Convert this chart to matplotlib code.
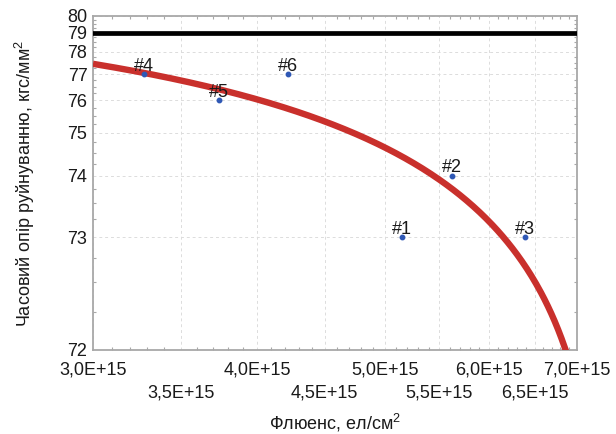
import numpy as np
import matplotlib
matplotlib.use('Agg')
import matplotlib.pyplot as plt
from matplotlib.ticker import FixedLocator, NullFormatter

# measured samples
fluence = [5.15e15, 5.62e15, 6.39e15, 3.28e15, 3.74e15, 4.22e15]
strength = [73, 74, 73, 77, 76, 77]
sample_names = ['#1', '#2', '#3', '#4', '#5', '#6']

# reference level
limit_level = 79

x_ticks = [3.0e15, 3.5e15, 4.0e15, 4.5e15, 5.0e15, 5.5e15, 6.0e15, 6.5e15, 7.0e15]
x_tick_labels = ['3,0E+15', '3,5E+15', '4,0E+15', '4,5E+15', '5,0E+15',
	'5,5E+15', '6,0E+15', '6,5E+15', '7,0E+15']
y_ticks = [72, 73, 74, 75, 76, 77, 78, 79, 80]

Y_SHIFT = 71.2


def fwd(v):
	return np.log(np.maximum(np.asarray(v, dtype=float) - Y_SHIFT, 1e-9))


def inv(u):
	return np.exp(u) + Y_SHIFT


def main():
	plt.rcParams['font.family'] = ['Liberation Sans', 'DejaVu Sans']
	plt.rcParams['mathtext.fontset'] = 'custom'
	plt.rcParams['mathtext.rm'] = 'Liberation Sans'
	plt.rcParams['mathtext.it'] = 'Liberation Sans'

	fig = plt.figure(figsize=(6.16, 4.34), dpi=100)
	ax = fig.add_axes([93 / 616, 1 - 350 / 434, (577 - 93) / 616, (350 - 16) / 434])

	ax.set_xscale('log')
	ax.set_yscale('function', functions=(fwd, inv))
	ax.set_xlim(3.0e15, 7.0e15)
	ax.set_ylim(72, 80)

	# linear trend through the samples
	coef = np.polyfit(np.array(fluence) / 1e15, strength, 1)
	xs = np.linspace(3.0, 7.0, 300)
	ax.plot(xs * 1e15, np.polyval(coef, xs), color='#C9302C', lw=4.6, zorder=3,
		solid_capstyle='butt')

	ax.axhline(limit_level, color='black', lw=3.4, zorder=4)

	ax.plot(fluence, strength, 'o', color='#2F58B5', markersize=3.2, zorder=5)
	for xv, yv, name in zip(fluence, strength, sample_names):
		ax.annotate(name, (xv, yv), xytext=(0, 2.5), textcoords='offset points',
			ha='center', va='baseline', fontsize=13, color='#1a1a1a', zorder=6)

	ax.xaxis.set_major_locator(FixedLocator(x_ticks))
	ax.set_xticklabels(x_tick_labels)
	ax.xaxis.set_minor_locator(FixedLocator(np.arange(30, 71) * 1e14))
	ax.xaxis.set_minor_formatter(NullFormatter())
	ax.yaxis.set_major_locator(FixedLocator(y_ticks))
	ax.set_yticklabels([str(t) for t in y_ticks])
	ax.yaxis.set_minor_locator(FixedLocator(np.arange(72, 80.01, 0.25)))
	ax.yaxis.set_minor_formatter(NullFormatter())

	ax.tick_params(which='both', direction='in', top=True, right=True, color='#a8a8a8')
	ax.tick_params(which='major', length=0, labelsize=13, labelcolor='#1a1a1a')
	ax.tick_params(which='minor', length=2.2, width=0.8)
	ax.tick_params(axis='x', which='major', pad=8)
	ax.tick_params(axis='y', which='major', pad=4)

	# staggered x labels: every second one goes to a lower row
	for i, tick in enumerate(ax.xaxis.get_major_ticks()):
		if i % 2 == 1:
			tick.set_pad(24.5)

	ax.grid(True, which='major', color='#dcdcdc', ls=(0, (3, 3)), lw=0.7)
	for s in ax.spines.values():
		s.set_color('#a8a8a8')
		s.set_linewidth(1.3)

	ax.set_xlabel('Флюенс, ел/см$^2$', fontsize=13, color='#1a1a1a', labelpad=7.5)
	ax.set_ylabel('Часовий опір руйнуванню, кгс/мм$^2$', fontsize=13,
		color='#1a1a1a', labelpad=22)

	fig.savefig('out.png', dpi=100)


if __name__ == "__main__":
	main()
